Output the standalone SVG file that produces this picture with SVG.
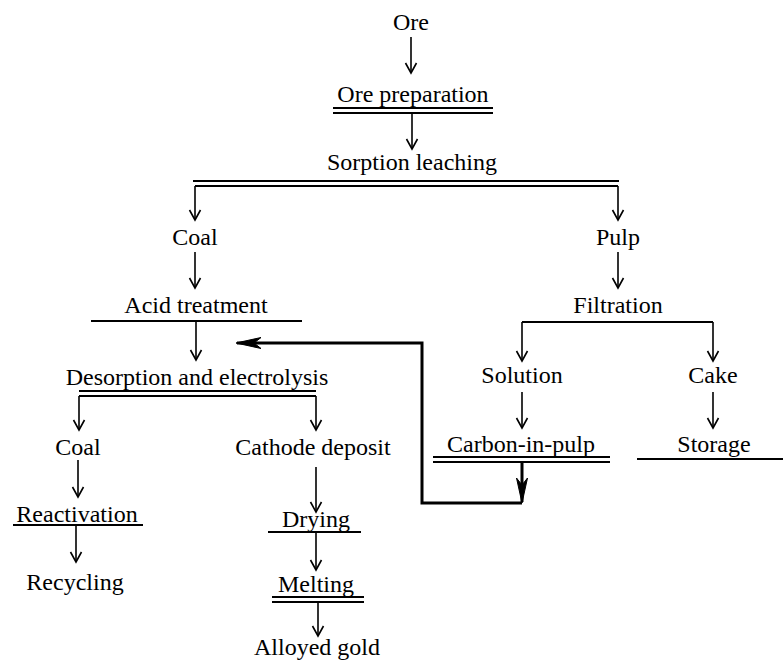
<svg xmlns="http://www.w3.org/2000/svg" width="783" height="664" viewBox="0 0 783 664">
<defs>
<marker id="ah" markerUnits="userSpaceOnUse" markerWidth="16" markerHeight="16" refX="0" refY="0" viewBox="-12 -8 14 16" orient="auto">
<path d="M-10,-5.5 L0,0 L-10,5.5" fill="none" stroke="#000" stroke-width="1.6"/>
</marker>
<marker id="bh" markerUnits="userSpaceOnUse" markerWidth="30" markerHeight="16" refX="0" refY="0" viewBox="-26 -8 28 16" orient="auto">
<path d="M1,0 L-24,-5.5 L-17,0 L-24,5.5 Z" fill="#000" stroke="#000" stroke-width="1"/>
</marker>
</defs>
<style>
text{font-family:"Liberation Serif","Times New Roman",serif;font-size:24px;fill:#000;text-anchor:middle}
.l{stroke:#000;stroke-width:2;fill:none}
.a{stroke:#000;stroke-width:1.6;fill:none;marker-end:url(#ah)}
.t{stroke:#000;stroke-width:3;fill:none}
</style>
<rect width="783" height="664" fill="#fff"/>
<g id="connectors">
<path class="a" d="M411,37 V73"/>
<path class="a" d="M412,114 V149"/>
<path class="l" d="M193,181 H619 M195,186 H618"/>
<path class="a" d="M195,186 V220"/>
<path class="a" d="M618,186 V220"/>
<path class="a" d="M195,252 V288"/>
<path class="a" d="M618,252 V288"/>
<path class="a" d="M196,322 V360"/>
<path class="a" d="M522,322 V361"/>
<path class="a" d="M713,322 V361"/>
<path class="l" d="M79,391 H316 M79,396 H316"/>
<path class="a" d="M79,396 V430"/>
<path class="a" d="M316,396 V430"/>
<path class="a" d="M522,392 V428"/>
<path class="a" d="M713,392 V428"/>
<path class="a" d="M78,460 V497"/>
<path class="a" d="M76,526 V562"/>
<path class="a" d="M316,467 V512"/>
<path class="a" d="M316,533 V570"/>
<path class="a" d="M318,603 V636"/>
<path class="t" d="M522,463 V502" marker-end="url(#bh)"/>
<path class="t" d="M522,503 H422 V343 H237" marker-end="url(#bh)"/>
</g>
<g id="ore"><text x="411" y="30">Ore</text></g>
<g id="ore-preparation"><text x="413" y="102">Ore preparation</text><path class="l" d="M333,108 H493 M333,113 H493"/></g>
<g id="sorption-leaching"><text x="412" y="170">Sorption leaching</text></g>
<g id="coal1"><text x="195" y="245">Coal</text></g>
<g id="pulp"><text x="618" y="245">Pulp</text></g>
<g id="acid-treatment"><text x="196" y="313">Acid treatment</text><path class="l" d="M91,321 H302"/></g>
<g id="filtration"><text x="618" y="313">Filtration</text><path class="l" d="M522,322 H713"/></g>
<g id="desorption"><text x="197" y="385">Desorption and electrolysis</text></g>
<g id="solution"><text x="522" y="383">Solution</text></g>
<g id="cake"><text x="713" y="383">Cake</text></g>
<g id="carbon-in-pulp"><text x="521" y="452">Carbon-in-pulp</text><path class="l" d="M433,457 H610 M433,462 H610"/></g>
<g id="storage"><text x="714" y="452">Storage</text><path class="l" d="M637,459 H783"/></g>
<g id="coal2"><text x="78" y="455">Coal</text></g>
<g id="cathode-deposit"><text x="313" y="455">Cathode deposit</text></g>
<g id="reactivation"><text x="77" y="522">Reactivation</text><path class="l" d="M13,525 H143"/></g>
<g id="recycling"><text x="75" y="590">Recycling</text></g>
<g id="drying"><text x="316" y="527">Drying</text><path class="l" d="M268,532 H361"/></g>
<g id="melting"><text x="316" y="592">Melting</text><path class="l" d="M272,597 H364 M272,602 H364"/></g>
<g id="alloyed-gold"><text x="317" y="655">Alloyed gold</text></g>
</svg>
